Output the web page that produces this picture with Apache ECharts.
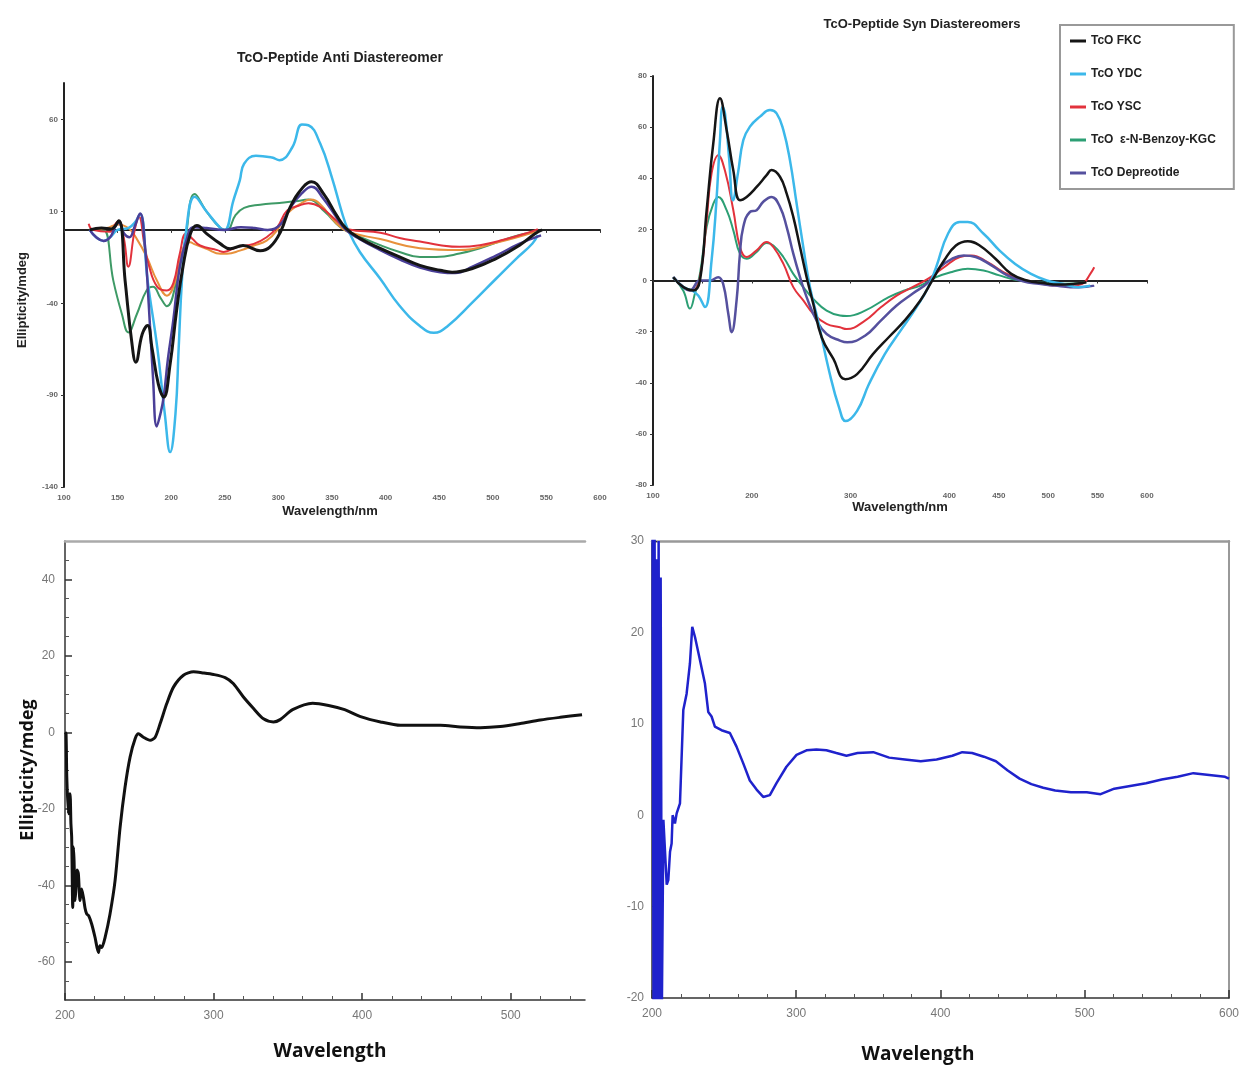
<!DOCTYPE html>
<html>
<head>
<meta charset="utf-8">
<title>TcO-Peptide CD spectra</title>
<script src="https://cdn.jsdelivr.net/npm/echarts@6/dist/echarts.min.js"></script>
<style>
  html, body { margin: 0; padding: 0; background: #fff; }
  #c { width: 1242px; height: 1068px; }
</style>
</head>
<body>
<div id="c"></div>
<script>
// ---- Anti diastereomer spectra: [wavelength nm, ellipticity mdeg] ----
const antiFKC = [[124,0],[135,1],[144,0.5],[151,5],[157,-27.6],[163,-60],[167,-72],[173,-56.7],[178,-52],[182,-64],[188,-84],[193,-91],[199,-73],[205,-44],[211,-20],[218,-2],[224,2.4],[233,-2],[246,-7.6],[255,-10.3],[267,-8.5],[283,-11.3],[292,-9.4],[302,-1],[311,12.4],[323,23.3],[331,26.2],[342.5,19.3],[354,8.2],[363,0.9],[376,-4.6],[395,-10.1],[413,-14.7],[432,-19.3],[451,-22],[462,-23],[481,-21],[503,-15.6],[525,-8.3],[540,-1.8],[546,0]];
const antiDepreotide = [[124,0],[130,-4],[137,-6],[143,-4],[148,2],[151,4],[156,-2],[161,-4],[166,2],[171,9],[175,-5],[179,-40],[183,-80],[186.5,-107],[190,-100],[193,-91],[197,-70],[202,-49],[208,-20],[214,-6],[221,1.5],[233,1],[250,0],[265,1.5],[278,1],[290,0],[302,3],[311,12],[322,20],[331,23.5],[342,17],[354,7],[363,0],[376,-5],[395,-11],[413,-16],[432,-20.5],[451,-23],[465,-23.5],[481,-20],[503,-14],[525,-7.5],[545,-3]];
const antiYDC = [[124,0],[130,-4],[137,-6],[143,-4],[150,0],[160,1],[166,4],[171,8.7],[178,-27.6],[187,-64],[194,-100],[199,-121],[204,-100],[207,-64],[210,-27.6],[214,0],[222,18],[233,10],[246,1],[250,0],[258,16],[264,27],[268,36],[279,40.4],[294,39.4],[301,38],[313,45],[322,57.4],[328,57],[339,47],[350,28.4],[359,10],[365,0],[376,-12],[395,-26.6],[413,-41.3],[432,-52.3],[445,-56],[458,-52.3],[481,-39.5],[503,-26.6],[522,-15.6],[537,-7.4],[542,-2.8]];
const antiKGC = [[124,0],[130,0],[137,0],[146,-27.6],[154,-45.8],[160,-55.8],[168,-45.8],[177,-33],[183,-31],[190,-37],[196,-41.6],[205,-27.6],[213,-5.8],[222,19.5],[233,10],[246,1],[252,0],[260,8],[268,12],[283,13.7],[301,14.7],[316,15.6],[328,16.5],[343,10],[357,1.8],[365,-1],[395,-8.3],[413,-12],[432,-14.7],[447,-14.7],[469,-12.9],[488,-10],[510,-5.5],[525,-2.8],[540,-1]];
const antiYSC = [[123,3.3],[127,0],[143,-1],[148,3.3],[151,5],[156,-5],[160,-20],[166,0],[170,7],[175,-8],[179,-19],[187,-31],[196,-33],[202,-29],[208,-13],[214,-2],[220,-5],[227,-8.5],[243,-11],[249,-12],[261,-9.4],[277,-7.6],[289,-4],[299,1.5],[308,10.5],[318,13],[328,14.5],[339,12.5],[354,5.2],[365,0.4],[395,-1.5],[413,-4.4],[432,-6.3],[451,-8.3],[469,-9.2],[488,-8.3],[510,-5.4],[533,-1.5],[542,0.4]];
const antiSixth = [[124,0],[140,1],[150,3],[160,1],[168,-5],[177,-14.5],[187,-28],[196,-35.8],[204,-27.6],[211.5,-9.4],[218,-6.7],[221,-7.6],[233,-10.3],[246,-13],[252,-13],[264,-11.3],[277,-8.5],[289,-5.8],[299,0],[308,8.7],[320,14],[330,16.5],[339,14],[354,3.6],[365,-1],[395,-5],[432,-10],[469,-11],[503,-7],[540,-1]];

// ---- Syn diastereomer spectra ----
const synFKC = [[120.5,1.3],[130.7,-2.6],[140.8,-3.9],[147.5,0],[154.3,27.5],[161,53.6],[167.8,71.3],[174.5,58.9],[181.3,43],[188,31.4],[194.8,32.7],[204.9,36.6],[215,41.2],[220,43.2],[228.5,40.6],[235.3,34],[242,24.9],[248.8,13.1],[255.5,1.3],[262.2,-9.1],[270.7,-22.2],[282.6,-30.7],[294.6,-38.6],[306.6,-36.6],[322.6,-28.8],[338.6,-22.2],[354.6,-15.7],[370.6,-7.8],[382.6,0],[394.6,7.8],[406.6,13.7],[418.6,15.4],[430.6,13.7],[446.6,8.5],[462.6,2.6],[478.6,0],[494.6,-1],[510.6,-1.6],[526.6,-1.3],[538.6,-0.7]];
const synYDC = [[120.5,1.3],[130.7,-2.6],[140,-4],[146,-6],[152.6,-10.4],[159.3,7.9],[164,30],[167.8,55],[170.5,68],[173,65],[177,48],[181,31.4],[186,42],[191.4,54.9],[198.1,60.2],[208.3,64.1],[218.4,66.7],[225.1,65.4],[231.9,58.9],[238.6,47.1],[245.4,30],[252.1,13.1],[258.9,-2.6],[266.6,-15],[278.6,-36],[288.6,-50],[295,-55],[306.6,-51],[318.6,-40.5],[334.6,-28.8],[350.6,-19.6],[366.6,-10.5],[378.6,-2.6],[386.6,5.2],[398.6,18.3],[410.6,22.9],[418.6,22.9],[434.6,18.3],[450.6,11.8],[466.6,6.5],[482.6,2.6],[498.6,0],[514.6,-1.3],[530.6,-2.6],[542.6,-2]];
const synYSC = [[120.5,1.3],[130.7,-2.6],[140,-4],[147.5,1.3],[154.3,23.6],[159.3,41.9],[166.1,49],[172.8,43],[181.3,27.5],[188,13.1],[194.8,9.2],[204.9,11.8],[215,15.1],[221.8,13.1],[231.9,6.6],[242,-2.6],[252.1,-7.8],[262.2,-13],[275.7,-17],[289.2,-18.3],[296,-19],[314.6,-15.7],[330.6,-10.5],[346.6,-5.9],[362.6,-2.6],[378.6,0.7],[394.6,5.2],[410.6,9.2],[422.6,9.8],[438.6,7.2],[454.6,3.3],[470.6,0.7],[490.6,-1],[506.6,-2],[522.6,-2],[534.6,-1.3],[542.6,2.6],[546.6,5.2]];
const synKGC = [[120.5,1.3],[130.7,-4],[137.4,-11],[142.5,-5],[147.5,2.6],[154.3,21],[161,30],[166,32.7],[174.5,27.5],[181.3,19.6],[188,10.5],[194.8,8.5],[204.9,11.2],[215,14.7],[221.8,13.7],[231.9,9.2],[242,2.6],[252.1,-2.6],[262.2,-7.2],[275.7,-11.8],[289.2,-13.7],[296,-13.9],[314.6,-11.8],[338.6,-6.5],[354.6,-3.9],[370.6,-2],[386.6,1.3],[402.6,3.3],[418.6,4.6],[434.6,3.9],[450.6,2],[466.6,0.3],[490.6,-0.7],[514.6,-1.3],[538.6,-0.7]];
const synDepreotide = [[120.5,1.3],[130.7,-2.6],[137.4,-3.9],[147.5,0],[157.6,0],[166,1.3],[171,-1.3],[176.2,-13],[179.6,-20.2],[184.6,-7.8],[188,10.5],[191.4,21],[198.1,26.8],[204.9,27.5],[211.6,30.8],[220,32.7],[228.5,28.8],[235.3,20.9],[242,10.5],[248.8,1.3],[255.5,-6.5],[265.6,-15.7],[275.7,-20.9],[289.2,-23.5],[296.6,-24.2],[314.6,-21.6],[330.6,-15.7],[346.6,-9.8],[362.6,-5.2],[378.6,-0.7],[390.6,5.2],[402.6,8.5],[414.6,9.8],[426.6,9.2],[442.6,5.9],[458.6,2],[474.6,-0.3],[490.6,-1.3],[506.6,-2],[522.6,-2.6],[538.6,-2.4],[546.6,-2]];
const synNames = ['TcO FKC', 'TcO YDC', 'TcO YSC', 'TcO  ε-N-Benzoy-KGC', 'TcO Depreotide'];

// ---- Single-complex spectra (lower panels) ----
const lowerLeft = [[200,0],[200.7,-0.4],[201.2,-11.7],[202.3,-21.3],[202.8,-17],[203.4,-16.1],[204,-24],[204.5,-27.5],[205.2,-45.8],[205.7,-30],[206.1,-33.6],[206.8,-44],[207.4,-40.5],[208.2,-36],[209,-37],[210.1,-44],[211.2,-41],[212.4,-43.2],[213.5,-46],[214.6,-47.5],[216,-48],[218,-50.2],[220.2,-53.6],[222.5,-57.6],[223.5,-55.8],[224.7,-56.3],[227,-53.6],[230.3,-47.5],[233.7,-38.8],[237.1,-24.8],[240.4,-14.4],[243.8,-6.5],[247.2,-1.7],[249.4,-0.4],[252.8,-1.3],[257.3,-2.1],[260.7,-1.3],[264,2.2],[268.5,7.5],[273,11.8],[279.7,14.9],[286.5,15.8],[293.2,15.5],[300,15.1],[307.8,14.3],[313.4,12.7],[320.1,9.2],[326.9,6.2],[333.6,3.5],[340.3,2.7],[344.8,3.3],[353.2,5.9],[366.7,7.6],[377.4,7],[388.2,5.9],[398.9,4.1],[412.4,2.7],[425.8,1.8],[439.2,1.8],[452.7,1.8],[466.1,1.4],[479.6,1.2],[493,1.5],[506.5,2.3],[519.9,3.2],[533.3,3.9],[548,4.6]];
const lowerRight = [[200.4,32],[201.1,-22],[201.8,31],[202.5,-22],[203.2,28],[203.9,-22],[204.6,30],[205.3,-22],[206,26],[206.8,-22],[207.9,-0.5],[210.2,-7.6],[211.3,-7.1],[212.5,-4],[213.6,-3.1],[214.3,0],[214.8,0.2],[215.9,-0.9],[217.1,0.2],[219.4,1.3],[221.7,11.5],[224,13.3],[226.3,16.6],[227.9,20.6],[229.8,19.5],[233.2,17],[236.7,14.4],[239,11.3],[241.3,10.8],[243.6,9.7],[248.2,9.3],[254,9],[258.6,7.5],[263.2,5.7],[267.8,3.8],[272.5,2.8],[277.1,2],[281.7,2.2],[286.3,3.5],[293.2,5.3],[300.2,6.6],[307.1,7.1],[314,7.2],[320.9,7.1],[327.8,6.8],[334.8,6.5],[342.5,6.8],[353.4,6.9],[364.4,6.3],[375.3,6.1],[386.3,5.9],[397.3,6.1],[408.2,6.5],[415.1,6.9],[421.9,6.8],[430.1,6.4],[438.4,5.9],[446.6,4.9],[454.8,4],[463,3.4],[471.2,3],[479.5,2.7],[490.4,2.5],[501.4,2.5],[511,2.3],[520.5,2.9],[531.5,3.2],[542.5,3.5],[553.4,3.9],[564.4,4.2],[575.3,4.6],[586.3,4.4],[597.3,4.2],[600,4]];

// ---- Tick labels ----
const antiXTicks = [100,150,200,250,300,350,400,450,500,550,600];
const antiYTicks = [-140,-90,-40,10,60];
const synXTicks = [100,150,200,250,300,350,400,450,500,550,600];
const synXLabels = [100,200,300,400,450,500,550,600];
const synYTicks = [-80,-60,-40,-20,0,20,40,60,80];
const llXTicks = [200,300,400,500];
const llYTicks = [-60,-40,-20,0,20,40];
const lrXTicks = [200,300,400,500,600];
const lrYTicks = [-20,-10,0,10,20,30];

// minor tick positions for the lower panels
function steps(from, to, step, skip) {
  const out = [];
  for (let v = from; v <= to + 1e-9; v += step) {
    if (!skip.includes(v)) out.push(v);
  }
  return out;
}
const llXMinor = steps(200, 540, 20, llXTicks);
const llYMinor = steps(-65, 45, 5, llYTicks);
const lrXMinor = steps(200, 600, 20, lrXTicks);

const ARIAL = 'Liberation Sans, Arial, sans-serif';
const SANS = 'Open Sans, Lato, sans-serif';

const chart = echarts.init(document.getElementById('c'), null, { renderer: 'canvas' });

function curve(name, data, color, width, axis, z, smooth) {
  return {
    type: 'line', name, data,
    xAxisIndex: axis, yAxisIndex: axis,
    showSymbol: false, symbol: 'none',
    smooth: smooth === undefined ? 0.45 : smooth,
    lineStyle: { color, width },
    itemStyle: { color },
    z: z || 2,
    animation: false
  };
}

function topX(grid, ticks, labels) {
  return {
    gridIndex: grid, type: 'value', min: 100, max: 600,
    axisLine: { onZero: true, lineStyle: { color: '#222', width: 2 } },
    axisTick: { show: true, length: 3, customValues: ticks, lineStyle: { color: '#333' } },
    axisLabel: { customValues: labels, fontSize: 8, color: '#666', fontFamily: ARIAL, fontWeight: 'bold', margin: 7 },
    splitLine: { show: false }
  };
}
function topY(grid, min, max, ticks) {
  return {
    gridIndex: grid, type: 'value', min, max,
    axisLine: { show: true, onZero: false, lineStyle: { color: '#222', width: 2 } },
    axisTick: { show: true, length: 3, customValues: ticks, lineStyle: { color: '#333' } },
    axisLabel: { customValues: ticks, fontSize: 8, color: '#666', fontFamily: ARIAL, fontWeight: 'bold', margin: 6 },
    splitLine: { show: false }
  };
}
// secondary axis used only for minor ticks or a frame edge
function extraX(grid, min, max, position, minor, edgeColor) {
  return {
    gridIndex: grid, type: 'value', min, max, position,
    axisLine: { show: !!edgeColor, onZero: false, lineStyle: { color: edgeColor || '#000', width: edgeColor ? 2.5 : 1 } },
    axisTick: minor ? { inside: true, length: 4, customValues: minor, lineStyle: { color: '#555' } } : { show: false },
    axisLabel: { show: false }, splitLine: { show: false }
  };
}
function extraY(grid, min, max, position, minor, edgeColor) {
  return {
    gridIndex: grid, type: 'value', min, max, position,
    axisLine: { show: !!edgeColor, onZero: false, lineStyle: { color: edgeColor || '#000', width: 2 } },
    axisTick: minor ? { inside: true, length: 4, customValues: minor, lineStyle: { color: '#555' } } : { show: false },
    axisLabel: { show: false }, splitLine: { show: false }
  };
}

const option = {
  backgroundColor: '#ffffff',
  animation: false,
  grid: [
    { left: 64, top: 83, width: 536, height: 404 },
    { left: 653, top: 76, width: 494, height: 409 },
    { left: 65, top: 541, width: 520, height: 459 },
    { left: 652, top: 541, width: 578, height: 457 }
  ],
  xAxis: [
    topX(0, antiXTicks, antiXTicks),
    topX(1, synXTicks, synXLabels),
    {
      gridIndex: 2, type: 'value', min: 200, max: 550,
      axisLine: { onZero: false, lineStyle: { color: '#333', width: 1.5 } },
      axisTick: { inside: true, length: 7, customValues: llXTicks, lineStyle: { color: '#333', width: 1.5 } },
      axisLabel: { customValues: llXTicks, fontSize: 12, color: '#777', fontFamily: ARIAL, margin: 10 },
      splitLine: { show: false }
    },
    {
      gridIndex: 3, type: 'value', min: 200, max: 600,
      axisLine: { onZero: false, lineStyle: { color: '#333', width: 1.5 } },
      axisTick: { inside: true, length: 8, customValues: lrXTicks, lineStyle: { color: '#333', width: 1.5 } },
      axisLabel: { customValues: lrXTicks, fontSize: 12, color: '#777', fontFamily: ARIAL, margin: 10 },
      splitLine: { show: false }
    },
    extraX(2, 200, 550, 'bottom', llXMinor, null),
    extraX(2, 200, 550, 'top', null, '#aaa'),
    extraX(3, 200, 600, 'bottom', lrXMinor, null),
    extraX(3, 200, 600, 'top', null, '#999')
  ],
  yAxis: [
    topY(0, -140, 80, antiYTicks),
    topY(1, -80, 80, synYTicks),
    {
      gridIndex: 2, type: 'value', min: -70, max: 50,
      axisLine: { show: true, onZero: false, lineStyle: { color: '#333', width: 1.5 } },
      axisTick: { inside: true, length: 7, customValues: llYTicks, lineStyle: { color: '#333', width: 1.5 } },
      axisLabel: { customValues: llYTicks, fontSize: 12, color: '#777', fontFamily: ARIAL, margin: 10 },
      splitLine: { show: false }
    },
    {
      gridIndex: 3, type: 'value', min: -20, max: 30,
      axisLine: { show: true, onZero: false, lineStyle: { color: '#333', width: 1.5 } },
      axisTick: { inside: true, length: 5, customValues: lrYTicks, lineStyle: { color: '#333' } },
      axisLabel: { customValues: lrYTicks, fontSize: 12, color: '#777', fontFamily: ARIAL, margin: 8 },
      splitLine: { show: false }
    },
    extraY(2, -70, 50, 'left', llYMinor, null),
    extraY(3, -20, 30, 'right', null, '#999')
  ],
  legend: {
    data: synNames,
    orient: 'vertical',
    left: 1060, top: 25,
    padding: [10, 18, 10, 10],
    itemGap: 21,
    itemWidth: 16, itemHeight: 3,
    icon: 'rect',
    selectedMode: false,
    backgroundColor: '#fff',
    borderColor: '#999', borderWidth: 2,
    textStyle: { fontFamily: ARIAL, fontWeight: 'bold', fontSize: 12, color: '#222' }
  },
  series: [
    // anti panel
    curve('Anti KGC', antiKGC, '#3e9a66', 2, 0, 2),
    curve('Anti sixth', antiSixth, '#e8913c', 2, 0, 3),
    curve('Anti YSC', antiYSC, '#e2323c', 2, 0, 4),
    curve('Anti YDC', antiYDC, '#3cb8ea', 2.5, 0, 5),
    curve('Anti Depreotide', antiDepreotide, '#4a3f98', 2.5, 0, 6),
    curve('Anti FKC', antiFKC, '#151515', 3, 0, 7),
    // syn panel
    curve(synNames[3], synKGC, '#2c9f74', 2, 1, 2),
    curve(synNames[2], synYSC, '#e2323c', 2, 1, 3),
    curve(synNames[4], synDepreotide, '#55509e', 2.5, 1, 4),
    curve(synNames[1], synYDC, '#3cb8ea', 2.5, 1, 5),
    curve(synNames[0], synFKC, '#151515', 2.5, 1, 6),
    // lower panels
    curve('Lower left', lowerLeft, '#111111', 3, 2, 3, 0.25),
    curve('Lower right', lowerRight, '#1f22cc', 2.5, 3, 3, false)
  ],
  graphic: [
    { type: 'text', x: 340, y: 58, style: { text: 'TcO-Peptide Anti Diastereomer', fontFamily: ARIAL, fontWeight: 'bold', fontSize: 14, fill: '#222', align: 'center', verticalAlign: 'middle' } },
    { type: 'text', x: 330, y: 511, style: { text: 'Wavelength/nm', fontFamily: ARIAL, fontWeight: 'bold', fontSize: 13, fill: '#222', align: 'center', verticalAlign: 'middle' } },
    { type: 'text', x: 22, y: 300, rotation: Math.PI / 2, style: { text: 'Ellipticity/mdeg', fontFamily: ARIAL, fontWeight: 'bold', fontSize: 13, fill: '#222', align: 'center', verticalAlign: 'middle' } },
    { type: 'text', x: 922, y: 24, style: { text: 'TcO-Peptide Syn Diastereomers', fontFamily: ARIAL, fontWeight: 'bold', fontSize: 13, fill: '#222', align: 'center', verticalAlign: 'middle' } },
    { type: 'text', x: 900, y: 507, style: { text: 'Wavelength/nm', fontFamily: ARIAL, fontWeight: 'bold', fontSize: 13, fill: '#222', align: 'center', verticalAlign: 'middle' } },
    { type: 'text', x: 28, y: 770, rotation: Math.PI / 2, style: { text: 'Ellipticity/mdeg', fontFamily: SANS, fontWeight: 'bold', fontSize: 18, fill: '#111', align: 'center', verticalAlign: 'middle' } },
    { type: 'text', x: 330, y: 1052, style: { text: 'Wavelength', fontFamily: SANS, fontWeight: 'bold', fontSize: 19, fill: '#111', align: 'center', verticalAlign: 'middle' } },
    { type: 'text', x: 918, y: 1055, style: { text: 'Wavelength', fontFamily: SANS, fontWeight: 'bold', fontSize: 19, fill: '#111', align: 'center', verticalAlign: 'middle' } }
  ]
};

chart.setOption(option);
</script>
</body>
</html>
